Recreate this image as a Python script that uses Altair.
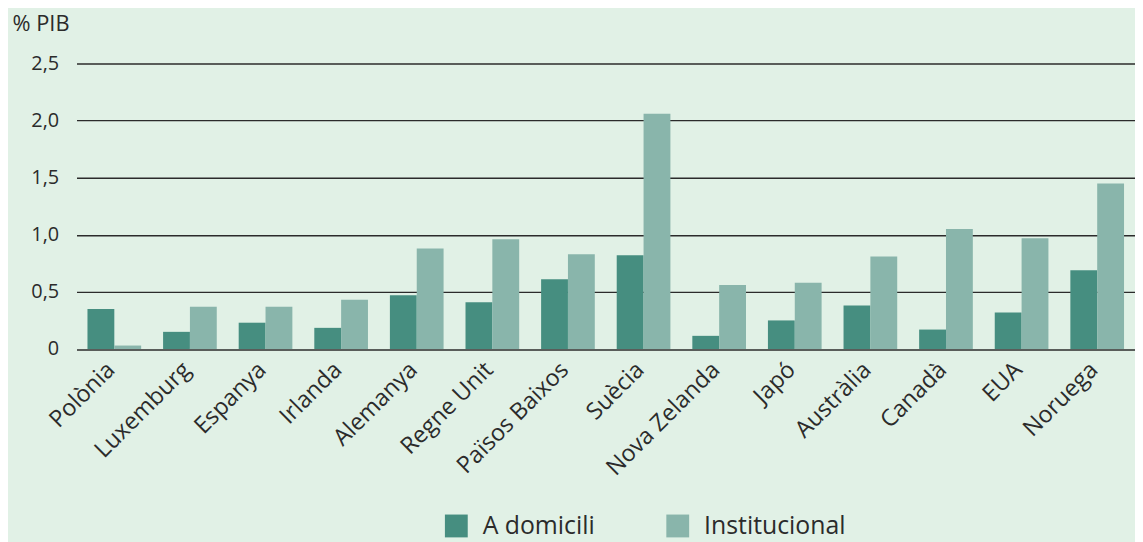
import altair as alt
import pandas as pd

countries = ["Polònia", "Luxemburg", "Espanya", "Irlanda", "Alemanya", "Regne Unit",
             "Països Baixos", "Suècia", "Nova Zelanda", "Japó", "Austràlia", "Canadà",
             "EUA", "Noruega"]
a_domicili = [0.35, 0.15, 0.23, 0.185, 0.47, 0.41, 0.61, 0.82, 0.115, 0.25, 0.38, 0.17, 0.32, 0.69]
institucional = [0.03, 0.37, 0.37, 0.43, 0.88, 0.96, 0.83, 2.06, 0.56, 0.58, 0.81, 1.05, 0.97, 1.45]
series = ["A domicili", "Institucional"]
colors = ["#468e80", "#89b5ab"]
y_ticks = [0, 0.5, 1.0, 1.5, 2.0, 2.5]

rows = []
for i, c in enumerate(countries):
    rows.append({"pais": c, "tipus": series[0], "valor": a_domicili[i]})
    rows.append({"pais": c, "tipus": series[1], "valor": institucional[i]})
df = pd.DataFrame(rows)

FONT = "Open Sans"
TXT = "#2b2b2b"

chart = alt.Chart(df).mark_bar().encode(
    x=alt.X("pais:N", sort=countries,
            scale=alt.Scale(paddingInner=0.29, paddingOuter=0.145),
            axis=alt.Axis(title=None, labelAngle=-45, labelAlign="right", labelBaseline="middle",
                          labelFontSize=23.5, labelColor=TXT, labelFont=FONT, labelPadding=17,
                          labelOffset=-3,
                          domain=False, ticks=False, grid=False)),
    xOffset=alt.XOffset("tipus:N", sort=series, scale=alt.Scale(paddingInner=0, paddingOuter=0)),
    y=alt.Y("valor:Q", scale=alt.Scale(domain=[0, 2.5], nice=False),
            axis=alt.Axis(title="% PIB", titleAngle=0, titleX=-65, titleY=-40,
                          titleAlign="left", titleBaseline="middle", titleFontSize=22,
                          titleFontWeight="normal", titleColor=TXT, titleFont=FONT,
                          values=y_ticks,
                          labelExpr="datum.value == 0 ? '0' : replace(format(datum.value, '.1f'), '.', ',')",
                          labelFontSize=20, labelColor=TXT, labelFont=FONT, labelPadding=18,
                          domain=False, ticks=False, grid=True, gridColor="#2b2b2b",
                          gridWidth=1.4)),
    color=alt.Color("tipus:N", sort=series,
                    scale=alt.Scale(domain=series, range=colors),
                    legend=alt.Legend(title=None, orient="none", direction="horizontal",
                                      legendX=370, legendY=453, symbolType="square",
                                      symbolSize=529, symbolStrokeWidth=0, symbolOpacity=1,
                                      labelFontSize=25, labelFont=FONT, labelColor=TXT,
                                      labelOffset=14, columnPadding=70, padding=0)),
).properties(
    width=1066, height=287.5,
    autosize=alt.AutoSizeParams(type="none"),
    padding={"left": 69, "top": 54, "right": 0, "bottom": 192},
    background="#e1f1e6",
).configure_view(stroke=None, fill="#e1f1e6")

chart.save("out.html", embed_options={"renderer": "svg", "actions": False})
